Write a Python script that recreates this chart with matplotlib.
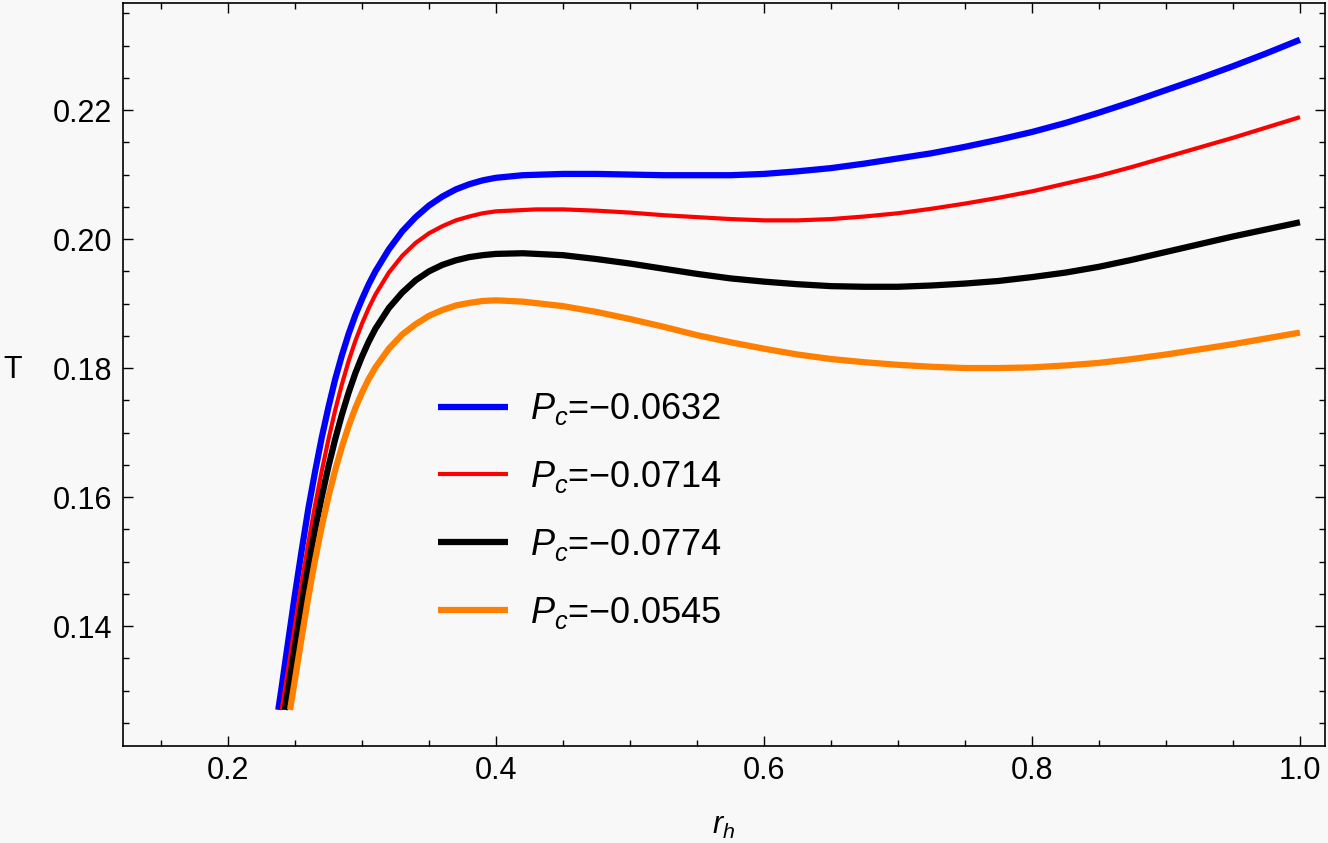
import matplotlib
matplotlib.use("Agg")
import matplotlib.pyplot as plt
from matplotlib.ticker import MultipleLocator

plt.rcParams['font.family'] = ['Liberation Sans', 'DejaVu Sans']
plt.rcParams['mathtext.fontset'] = 'custom'
plt.rcParams['mathtext.rm'] = 'Liberation Sans'
plt.rcParams['mathtext.it'] = 'Liberation Sans:italic'

# values (r_h, T)
r_blue = [0.2375, 0.240, 0.245, 0.250, 0.255, 0.260, 0.265, 0.270, 0.275, 0.280, 0.285, 0.290, 0.295,
          0.300, 0.305, 0.310, 0.320, 0.330, 0.340, 0.350, 0.360, 0.370, 0.380, 0.390, 0.400, 0.420,
          0.435, 0.450, 0.475, 0.500, 0.525, 0.550, 0.575, 0.600, 0.625, 0.650, 0.675, 0.700, 0.725,
          0.750, 0.775, 0.800, 0.825, 0.850, 0.875, 0.900, 0.925, 0.950, 0.975, 1.000]
T_blue = [0.1270, 0.1305, 0.1378, 0.1450, 0.1518, 0.1583, 0.1640, 0.1693, 0.1740, 0.1783, 0.1820, 0.1853,
          0.1882, 0.1907, 0.1930, 0.1950, 0.1984, 0.2012, 0.2034, 0.2052, 0.2066, 0.2077, 0.2085, 0.2091,
          0.2095, 0.2099, 0.2100, 0.2101, 0.2101, 0.2100, 0.2099, 0.2099, 0.2099, 0.2101, 0.2105, 0.2110,
          0.2117, 0.2125, 0.2133, 0.2143, 0.2154, 0.2166, 0.2180, 0.2196, 0.2213, 0.2231, 0.2249, 0.2268,
          0.2288, 0.2309]

r_red = [0.240, 0.245, 0.250, 0.255, 0.260, 0.265, 0.270, 0.275, 0.280, 0.285, 0.290, 0.295, 0.300,
         0.305, 0.310, 0.320, 0.330, 0.340, 0.350, 0.360, 0.370, 0.380, 0.390, 0.400, 0.430, 0.450,
         0.475, 0.500, 0.525, 0.550, 0.575, 0.600, 0.625, 0.650, 0.675, 0.700, 0.725, 0.750, 0.775,
         0.800, 0.825, 0.850, 0.875, 0.900, 0.925, 0.950, 0.975, 1.000]
T_red = [0.1270, 0.1335, 0.1402, 0.1468, 0.1530, 0.1588, 0.1641, 0.1690, 0.1735, 0.1775, 0.1811, 0.1842,
         0.1869, 0.1893, 0.1914, 0.1948, 0.1974, 0.1994, 0.2009, 0.2020, 0.2029, 0.2035, 0.2040, 0.2043,
         0.2046, 0.2046, 0.2044, 0.2041, 0.2037, 0.2034, 0.2031, 0.2029, 0.2029, 0.2031, 0.2035, 0.2040,
         0.2047, 0.2055, 0.2064, 0.2074, 0.2086, 0.2098, 0.2112, 0.2127, 0.2142, 0.2157, 0.2173, 0.2189]

r_black = [0.2425, 0.245, 0.250, 0.255, 0.260, 0.265, 0.270, 0.275, 0.280, 0.285, 0.290, 0.295, 0.300,
           0.305, 0.310, 0.320, 0.330, 0.340, 0.350, 0.360, 0.370, 0.380, 0.390, 0.400, 0.420, 0.450,
           0.475, 0.500, 0.525, 0.550, 0.575, 0.600, 0.625, 0.650, 0.675, 0.700, 0.725, 0.750, 0.775,
           0.800, 0.825, 0.850, 0.875, 0.900, 0.925, 0.950, 0.975, 1.000]
T_black = [0.1270, 0.1302, 0.1368, 0.1433, 0.1494, 0.1550, 0.1601, 0.1648, 0.1690, 0.1728, 0.1762, 0.1792,
           0.1818, 0.1841, 0.1861, 0.1893, 0.1917, 0.1936, 0.1950, 0.1960, 0.1967, 0.1972, 0.1975, 0.1977,
           0.1978, 0.1975, 0.1969, 0.1962, 0.1954, 0.1946, 0.1939, 0.1934, 0.1930, 0.1927, 0.1926, 0.1926,
           0.1928, 0.1931, 0.1935, 0.1941, 0.1948, 0.1957, 0.1968, 0.1980, 0.1992, 0.2004, 0.2015, 0.2026]

r_orange = [0.2463, 0.250, 0.255, 0.260, 0.265, 0.270, 0.275, 0.280, 0.285, 0.290, 0.295, 0.300, 0.305,
            0.310, 0.320, 0.330, 0.340, 0.350, 0.360, 0.370, 0.380, 0.390, 0.400, 0.420, 0.450, 0.475,
            0.500, 0.525, 0.550, 0.575, 0.600, 0.625, 0.650, 0.675, 0.700, 0.725, 0.750, 0.775, 0.800,
            0.825, 0.850, 0.875, 0.900, 0.925, 0.950, 0.975, 1.000]
T_orange = [0.1270, 0.1318, 0.1383, 0.1446, 0.1503, 0.1555, 0.1601, 0.1642, 0.1678, 0.1710, 0.1738, 0.1762,
            0.1783, 0.1801, 0.1830, 0.1852, 0.1868, 0.1881, 0.1890, 0.1897, 0.1901, 0.1904, 0.1905, 0.1903,
            0.1896, 0.1887, 0.1876, 0.1864, 0.1851, 0.1840, 0.1830, 0.1821, 0.1814, 0.1809, 0.1805, 0.1802,
            0.1800, 0.1800, 0.1801, 0.1804, 0.1808, 0.1814, 0.1821, 0.1829, 0.1837, 0.1846, 0.1855]

labels = [r'$P_c$=−0.0632', r'$P_c$=−0.0714', r'$P_c$=−0.0774', r'$P_c$=−0.0545']

bg = '#f8f8f8'
fig = plt.figure(figsize=(13.28, 8.43), dpi=100, facecolor=bg)
ax = fig.add_axes([123 / 1328, 1 - 746 / 843, (1325 - 123) / 1328, (746 - 3) / 843])
ax.set_facecolor(bg)

ax.plot(r_blue, T_blue, color='#0000ff', lw=4.5, label=labels[0], solid_capstyle='butt')
ax.plot(r_red, T_red, color='#ff0000', lw=3.0, label=labels[1], solid_capstyle='butt')
ax.plot(r_black, T_black, color='black', lw=4.5, label=labels[2], solid_capstyle='butt')
ax.plot(r_orange, T_orange, color='#ff8000', lw=4.5, label=labels[3], solid_capstyle='butt')

ax.set_xlim(0.1216, 1.0187)
ax.set_ylim(0.1214, 0.2366)

ax.xaxis.set_major_locator(MultipleLocator(0.2))
ax.xaxis.set_minor_locator(MultipleLocator(0.05))
ax.yaxis.set_major_locator(MultipleLocator(0.02))
ax.yaxis.set_minor_locator(MultipleLocator(0.005))
ax.xaxis.set_major_formatter(plt.FuncFormatter(lambda v, p: f"{v:.1f}"))
ax.yaxis.set_major_formatter(plt.FuncFormatter(lambda v, p: f"{v:.2f}"))

ax.tick_params(which='both', direction='in', top=True, right=True, width=1.0)
ax.tick_params(which='major', length=7.5, labelsize=22)
ax.tick_params(which='minor', length=4.5)
ax.tick_params(axis='x', which='major', pad=7)
ax.tick_params(axis='y', which='major', pad=8)
for s in ax.spines.values():
    s.set_linewidth(1.2)

fig.text(13 / 1328, 1 - 370 / 843, 'T', fontsize=22, ha='center', va='center')
fig.text(724 / 1328, 1 - 826 / 843, r'$r_h$', fontsize=22, ha='center', va='center')

leg = ax.legend(loc='center left', bbox_to_anchor=(438 / 1328, 1 - 511 / 843),
                bbox_transform=fig.transFigure, frameon=False, fontsize=26,
                handlelength=1.95, handletextpad=0.6, labelspacing=0.88,
                borderpad=0, borderaxespad=0)

fig.savefig('out.png', dpi=100, facecolor=bg)
